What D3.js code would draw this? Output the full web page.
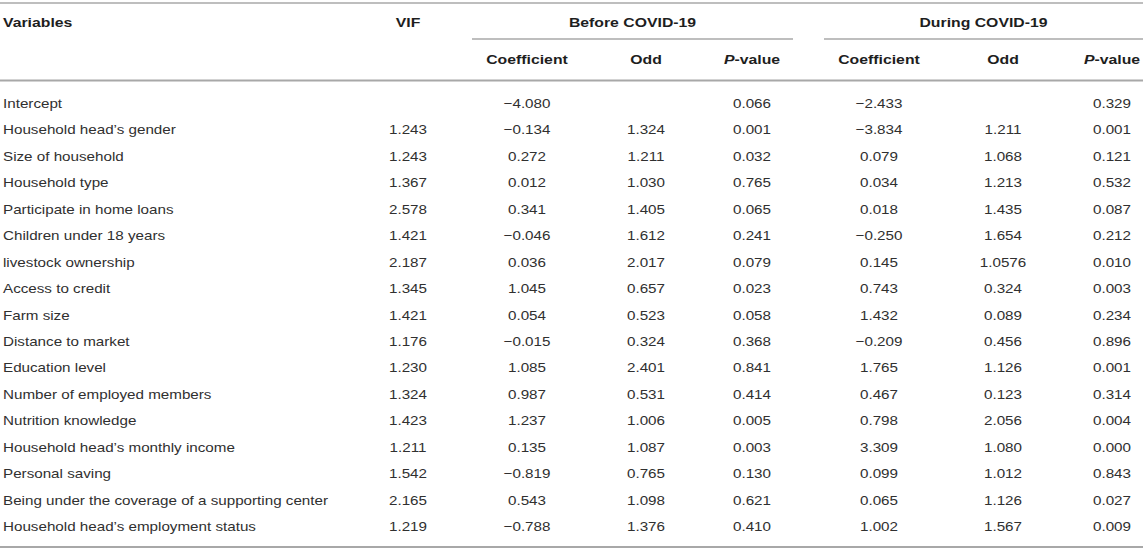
<!DOCTYPE html>
<html>
<head>
<meta charset="utf-8">
<script src="https://cdn.jsdelivr.net/npm/d3@7"></script>
<style>
  html, body { margin: 0; padding: 0; background: #fff; }
  text { font-family: "Liberation Sans", Arial, Helvetica, sans-serif; }
</style>
</head>
<body>
<div id="table"></div>
<script>
const variables = [
    "Intercept",
    "Household head\u2019s gender",
    "Size of household",
    "Household type",
    "Participate in home loans",
    "Children under 18 years",
    "livestock ownership",
    "Access to credit",
    "Farm size",
    "Distance to market",
    "Education level",
    "Number of employed members",
    "Nutrition knowledge",
    "Household head\u2019s monthly income",
    "Personal saving",
    "Being under the coverage of a supporting center",
    "Household head\u2019s employment status"
];
const vif = [null, 1.243, 1.243, 1.367, 2.578, 1.421, 2.187, 1.345, 1.421, 1.176, 1.230, 1.324, 1.423, 1.211, 1.542, 2.165, 1.219];
const coefBefore = [-4.080, -0.134, 0.272, 0.012, 0.341, -0.046, 0.036, 1.045, 0.054, -0.015, 1.085, 0.987, 1.237, 0.135, -0.819, 0.543, -0.788];
const oddBefore = [null, 1.324, 1.211, 1.030, 1.405, 1.612, 2.017, 0.657, 0.523, 0.324, 2.401, 0.531, 1.006, 1.087, 0.765, 1.098, 1.376];
const pBefore = [0.066, 0.001, 0.032, 0.765, 0.065, 0.241, 0.079, 0.023, 0.058, 0.368, 0.841, 0.414, 0.005, 0.003, 0.130, 0.621, 0.410];
const coefDuring = [-2.433, -3.834, 0.079, 0.034, 0.018, -0.250, 0.145, 0.743, 1.432, -0.209, 1.765, 0.467, 0.798, 3.309, 0.099, 0.065, 1.002];
const oddDuring = [null, 1.211, 1.068, 1.213, 1.435, 1.654, 1.0576, 0.324, 0.089, 0.456, 1.126, 0.123, 2.056, 1.080, 1.012, 1.126, 1.567];
const pDuring = [0.329, 0.001, 0.121, 0.532, 0.087, 0.212, 0.010, 0.003, 0.234, 0.896, 0.001, 0.314, 0.004, 0.000, 0.843, 0.027, 0.009];

const groups = ["Before COVID-19", "During COVID-19"];
const subHeaders = ["Coefficient", "Odd", "P-value"];

const width = 1143;
const height = 550;
const stretch = 1.17;   // the reference font is a bit wider than Liberation Sans

const svg = d3.select("#table").append("svg")
    .attr("width", width)
    .attr("height", height);

const colKeys = ["vif", "cb", "ob", "pb", "cd", "od", "pd"];
const colValues = { vif: vif, cb: coefBefore, ob: oddBefore, pb: pBefore, cd: coefDuring, od: oddDuring, pd: pDuring };

const x = d3.scaleOrdinal()
    .domain(colKeys)
    .range([408, 527, 646, 752, 879, 1003, 1112]);

const y = d3.scalePoint()
    .domain(variables)
    .range([108, 531]);

const groupSpan = d3.scaleOrdinal()
    .domain(groups)
    .range([[472, 793], [824, 1143]]);

const fmt3 = d3.format(".3f");
const fmt4 = d3.format(".4f");
const fmt = v => Math.abs(v * 1000 - Math.round(v * 1000)) > 1e-6 ? fmt4(v) : fmt3(v);

function addText(sel, tx, ty, anchor) {
    return sel.append("text")
        .attr("transform", `translate(${tx},${ty}) scale(${stretch},1)`)
        .attr("text-anchor", anchor);
}

// rules
const rule = (y0, x0, x1, w) => svg.append("line")
    .attr("x1", x0).attr("x2", x1)
    .attr("y1", y0).attr("y2", y0)
    .attr("stroke", "#a8a8a8")
    .attr("stroke-width", w);

rule(3, 0, width, 1.5);
groups.forEach(g => rule(39, groupSpan(g)[0], groupSpan(g)[1], 1.5));
rule(80.5, 0, width, 2);
rule(547, 0, width, 2);

// header
const head = svg.append("g")
    .attr("font-weight", "bold")
    .attr("font-size", "13.5px")
    .attr("fill", "#1e1e1e");

addText(head, 3, 27, "start").text("Variables");
addText(head, x("vif"), 27, "middle").text("VIF");
groups.forEach(g => {
    const s = groupSpan(g);
    addText(head, (s[0] + s[1]) / 2, 27, "middle").text(g);
});

const subKeys = [["cb", "ob", "pb"], ["cd", "od", "pd"]];
subKeys.forEach(keys => {
    keys.forEach((k, i) => {
        const t = addText(head, x(k), 64, "middle");
        if (subHeaders[i] === "P-value") {
            t.append("tspan").attr("font-style", "italic").text("P");
            t.append("tspan").text("-value");
        } else {
            t.text(subHeaders[i]);
        }
    });
});

// body
const body = svg.append("g")
    .attr("font-size", "13px")
    .attr("fill", "#303030");

variables.forEach((v, i) => {
    addText(body, 3, y(v), "start").text(v);
    colKeys.forEach(k => {
        const val = colValues[k][i];
        if (val === null) return;
        addText(body, x(k), y(v), "middle").text(fmt(val));
    });
});
</script>
</body>
</html>
